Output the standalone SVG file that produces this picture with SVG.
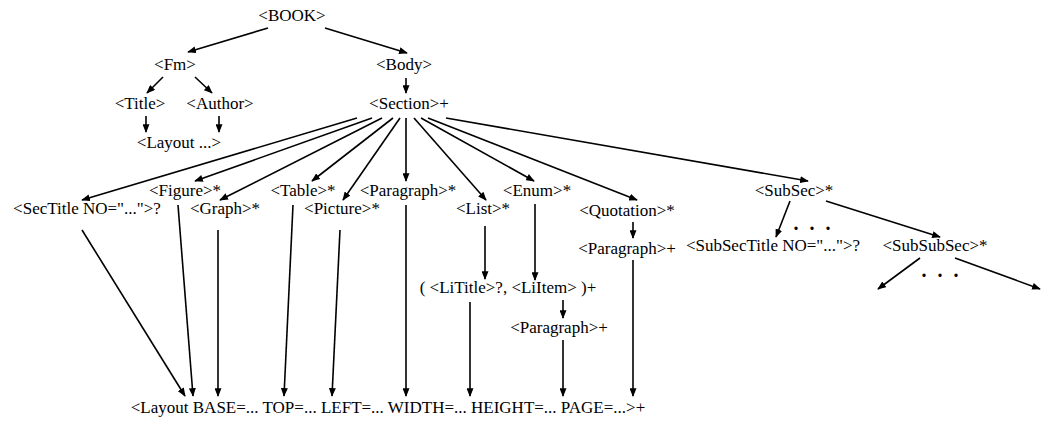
<svg xmlns="http://www.w3.org/2000/svg" width="1049" height="428" viewBox="0 0 1049 428">
<style>
text{font-family:"Liberation Serif","Times New Roman",serif;font-size:17px;fill:#000;text-anchor:middle}
.dots{font-size:20px;font-weight:bold;word-spacing:6px}
.c line{stroke:#000;stroke-width:1.6;marker-end:url(#ah)}
.c line.n{marker-end:none}
</style>
<defs>
<marker id="ah" viewBox="0 0 10 8" refX="9" refY="4" markerWidth="9" markerHeight="7" orient="auto" markerUnits="userSpaceOnUse"><path d="M0,0 L10,4 L0,8 z" fill="#000"/></marker>
</defs>
<rect width="1049" height="428" fill="#fff"/>
<g id="n-book"><text x="292" y="21">&lt;BOOK&gt;</text></g>
<g id="n-fm"><text x="175" y="70">&lt;Fm&gt;</text></g>
<g id="n-body"><text x="404" y="70">&lt;Body&gt;</text></g>
<g id="n-title"><text x="140" y="109">&lt;Title&gt;</text></g>
<g id="n-author"><text x="220" y="109">&lt;Author&gt;</text></g>
<g id="n-section"><text x="409" y="109">&lt;Section&gt;+</text></g>
<g id="n-layout-fm"><text x="179" y="148">&lt;Layout ...&gt;</text></g>
<g id="n-figure"><text x="185" y="196">&lt;Figure&gt;*</text></g>
<g id="n-table"><text x="303" y="196">&lt;Table&gt;*</text></g>
<g id="n-paragraph"><text x="408" y="196">&lt;Paragraph&gt;*</text></g>
<g id="n-enum"><text x="537" y="196">&lt;Enum&gt;*</text></g>
<g id="n-subsec"><text x="794" y="196">&lt;SubSec&gt;*</text></g>
<g id="n-sectitle"><text x="87" y="214">&lt;SecTitle NO="..."&gt;?</text></g>
<g id="n-graph"><text x="225" y="214">&lt;Graph&gt;*</text></g>
<g id="n-picture"><text x="342" y="214">&lt;Picture&gt;*</text></g>
<g id="n-list"><text x="483" y="214">&lt;List&gt;*</text></g>
<g id="n-quotation"><text x="627" y="216">&lt;Quotation&gt;*</text></g>
<g id="n-subsec-dots"><text class="dots" x="812" y="230">. . .</text></g>
<g id="n-subsectitle"><text x="773" y="251">&lt;SubSecTitle NO="..."&gt;?</text></g>
<g id="n-subsubsec"><text x="935" y="251">&lt;SubSubSec&gt;*</text></g>
<g id="n-subsubsec-dots"><text class="dots" x="940" y="277">. . .</text></g>
<g id="n-quot-paragraph"><text x="627" y="254">&lt;Paragraph&gt;+</text></g>
<g id="n-litems"><text x="508" y="293">( &lt;LiTitle&gt;?, &lt;LiItem&gt; )+</text></g>
<g id="n-li-paragraph"><text x="559" y="333">&lt;Paragraph&gt;+</text></g>
<g id="n-layout"><text x="388" y="413">&lt;Layout BASE=... TOP=... LEFT=... WIDTH=... HEIGHT=... PAGE=...&gt;+</text></g>
<g id="connectors" class="c">
<line x1="268" y1="28" x2="188" y2="52"/>
<line x1="325" y1="28" x2="407" y2="53"/>
<line x1="163" y1="77" x2="147" y2="93"/>
<line x1="195" y1="77" x2="212" y2="93"/>
<line x1="406" y1="78" x2="406" y2="93"/>
<line x1="146" y1="116" x2="146" y2="132"/>
<line x1="219" y1="116" x2="219" y2="132"/>
<line x1="357" y1="118" x2="82" y2="200"/>
<line x1="372" y1="118" x2="195" y2="181"/>
<line x1="382" y1="118" x2="220" y2="200"/>
<line x1="393" y1="118" x2="312" y2="181"/>
<line x1="400" y1="118" x2="343" y2="200"/>
<line x1="406" y1="118" x2="406" y2="181"/>
<line x1="414" y1="118" x2="486" y2="200"/>
<line x1="421" y1="118" x2="534" y2="181"/>
<line x1="428" y1="118" x2="637" y2="200"/>
<line x1="446" y1="118" x2="808" y2="181"/>
<line x1="82" y1="230" x2="185" y2="396"/>
<line x1="178" y1="205" x2="193" y2="396"/>
<line x1="218" y1="230" x2="218" y2="396"/>
<line x1="293" y1="205" x2="284" y2="396"/>
<line x1="340" y1="230" x2="332" y2="396"/>
<line x1="406" y1="205" x2="406" y2="396"/>
<line x1="485" y1="226" x2="485" y2="279"/>
<line x1="470" y1="302" x2="470" y2="396"/>
<line x1="535" y1="204" x2="535" y2="280"/>
<line x1="563" y1="300" x2="563" y2="318"/>
<line x1="563" y1="340" x2="563" y2="396"/>
<line x1="633" y1="222" x2="633" y2="238"/>
<line x1="633" y1="260" x2="633" y2="396"/>
<line x1="790" y1="201" x2="776" y2="237"/>
<line x1="826" y1="201" x2="940" y2="237"/>
<line x1="920" y1="258" x2="878" y2="289"/>
<line x1="955" y1="258" x2="1040" y2="289"/>
</g>
</svg>
